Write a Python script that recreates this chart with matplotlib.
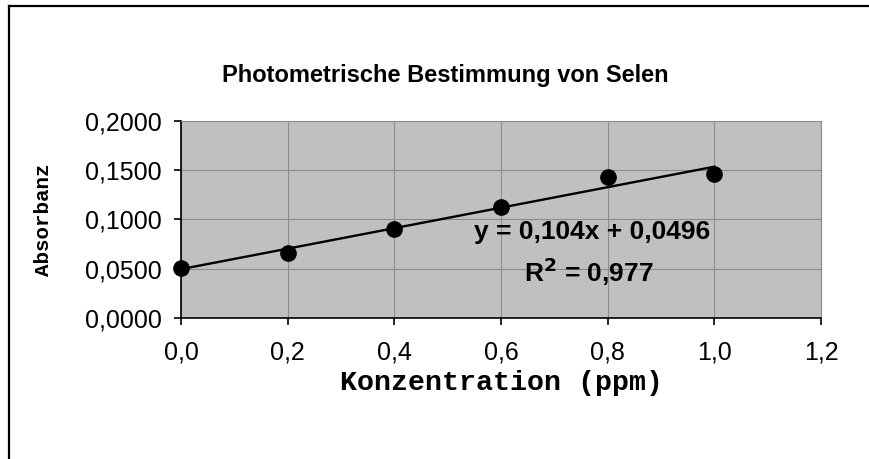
import numpy as np
import matplotlib.pyplot as plt
from matplotlib.lines import Line2D
from matplotlib.ticker import FuncFormatter

konz = [0.0, 0.2, 0.4, 0.6, 0.8, 1.0]
absorbanz = [0.051, 0.066, 0.090, 0.113, 0.143, 0.146]
slope = 0.104
intercept = 0.0496
r2 = 0.977

xticks = [0.0, 0.2, 0.4, 0.6, 0.8, 1.0, 1.2]
yticks = [0.0, 0.05, 0.10, 0.15, 0.20]

sans = 'Liberation Sans'
mono = 'Liberation Mono'

fig = plt.figure(figsize=(8.69, 4.59), dpi=100)
ax = fig.add_axes([0.2083, 0.3072, 0.7365, 0.4292])
ax.set_facecolor('#c0c0c0')

# trendline from the stated fit
xfit = np.array([konz[0], konz[-1]])
ax.plot(xfit, slope * xfit + intercept, color='k', lw=1.7, zorder=3)
ax.plot(konz, absorbanz, 'o', color='k', ms=11, zorder=4, clip_on=False)

ax.set_xlim(0, 1.2)
ax.set_ylim(0, 0.2)
ax.set_xticks(xticks)
ax.set_yticks(yticks)
ax.xaxis.set_major_formatter(FuncFormatter(lambda v, p: f'{v:.1f}'.replace('.', ',')))
ax.yaxis.set_major_formatter(FuncFormatter(lambda v, p: f'{v:.4f}'.replace('.', ',')))
ax.grid(True, color='#8c8c8c', lw=0.8)
ax.set_axisbelow(True)

for s in ['top', 'right']:
    ax.spines[s].set_color('#8c8c8c')
    ax.spines[s].set_linewidth(0.8)
for s in ['left', 'bottom']:
    ax.spines[s].set_color('k')
    ax.spines[s].set_linewidth(1.2)
ax.tick_params(direction='out', length=5, width=1.2, color='k', labelsize=18)
ax.tick_params(axis='y', pad=9)
ax.tick_params(axis='x', pad=11)
for lab in ax.get_xticklabels() + ax.get_yticklabels():
    lab.set_fontfamily(sans)

ax.set_xlabel('Konzentration (ppm)', fontfamily=mono, fontweight='bold',
              fontsize=20.3, labelpad=4)
ax.set_ylabel('Absorbanz', fontfamily=mono, fontweight='bold',
              fontsize=15, labelpad=23)

fig.text(0.513, 0.836, 'Photometrische Bestimmung von Selen', ha='center',
         va='center', fontfamily=sans, fontweight='bold', fontsize=17)

eq = f'y = {slope:.3f}x + {intercept:.4f}'.replace('.', ',')
ax.text(0.771, 0.0873, eq, ha='center', va='center', fontfamily=sans,
        fontweight='bold', fontsize=19)
ax.text(0.765, 0.0467, r'R$^\mathbf{2}$ = ' + f'{r2:.3f}'.replace('.', ','),
        ha='center', va='center', fontfamily=sans, fontweight='bold',
        fontsize=19)

# outer chart frame (left and top edges)
fig.add_artist(Line2D([0.0098, 0.0098], [0.0, 0.987], color='k', lw=1.6,
                      transform=fig.transFigure))
fig.add_artist(Line2D([0.0098, 1.0], [0.987, 0.987], color='k', lw=1.6,
                      transform=fig.transFigure))

fig.savefig('out.png', dpi=100)
